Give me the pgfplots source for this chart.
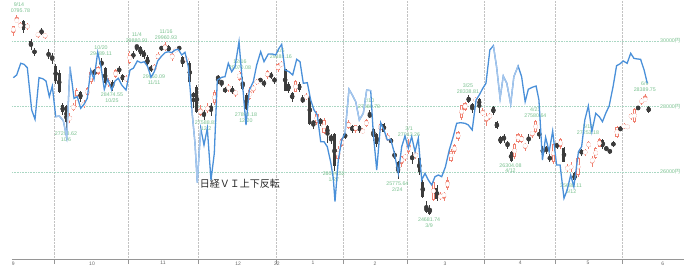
\documentclass[border=0pt]{standalone}
\usepackage{pgfplots}
\pgfplotsset{compat=1.18}
\usepackage{pgfplotstable}
\usepackage{fontspec}
\setmainfont{Liberation Sans}
\newfontfamily\jp{Noto Sans CJK JP}
\definecolor{upc}{RGB}{240,128,112}
\definecolor{downc}{RGB}{60,60,60}
\definecolor{vib}{RGB}{74,144,217}
\definecolor{vil}{RGB}{165,198,236}
\definecolor{labg}{RGB}{120,192,142}
\definecolor{hgrid}{RGB}{170,215,195}
\definecolor{vgrid}{RGB}{195,195,195}
\definecolor{axgray}{RGB}{150,150,150}
\newcommand\lab{\fontsize{5.3}{5.9}\selectfont}

\pgfplotstableread{
i O H L C
0 30253 30470 30150 30447
1 30580 30796 30550 30670
2 30430 30580 30400 30511
3 30600 30640 30250 30323
4 30400 30560 30330 30500
5 29990 30050 29720 29839
6 29700 29800 29540 29639
7 30150 30260 30100 30248
8 30300 30400 30180 30240
9 30150 30250 30050 30183
10 29620 29750 29450 29544
11 29540 29620 29300 29452
12 29240 29300 28700 28771
13 29020 29100 28400 28444
14 28040 28100 27750 27822
15 28020 28050 27294 27528
16 27600 27800 27500 27678
17 27900 28100 27850 28048
18 28000 28580 27980 28498
19 28440 28480 28150 28230
20 28000 28200 27950 28140
21 28350 28580 28300 28550
22 28750 29100 28700 29068
23 29100 29150 28900 29025
24 29000 29250 28950 29215
25 29360 29489 29180 29255
26 29170 29200 28650 28708
27 28650 28870 28600 28804
28 28750 28800 28475 28600
29 28900 29150 28870 29106
30 29150 29230 29000 29098
31 28950 29000 28750 28820
32 28800 28950 28750 28892
33 29330 29700 29300 29647
34 29600 29680 29450 29520
35 29880 29881 29700 29794
36 29820 29840 29550 29611
37 29700 29720 29450 29507
38 29500 29560 29200 29285
39 29200 29270 29050 29106
40 29100 29300 29050 29277
41 29450 29650 29430 29609
42 29800 29850 29700 29776
43 29800 29961 29700 29808
44 29850 29870 29650 29688
45 29450 29700 29400 29598
46 29700 29800 29650 29745
47 29800 29850 29700 29774
48 29500 29530 29200 29302
49 29400 29530 29350 29499
50 29330 29380 28700 28751
51 28400 28450 27950 28283
52 28600 28650 27800 27821
53 27750 28050 27700 27935
54 27800 27900 27589 27753
55 27850 28100 27800 28029
56 28000 28100 27700 27927
57 28100 28500 28050 28455
58 28900 28950 28700 28860
59 28770 28800 28600 28725
60 28560 28600 28400 28437
61 28500 28700 28450 28640
62 28560 28620 28380 28432
63 28380 28500 28300 28459
64 28800 29070 28780 29066
65 28760 28900 28500 28545
66 28350 28400 27893 27937
67 28230 28600 28200 28517
68 28540 28650 28400 28562
69 28700 28850 28650 28798
70 28830 28870 28750 28782
71 28760 28800 28600 28676
72 28900 29100 28850 29069
73 28980 29050 28850 28906
74 28830 28900 28700 28791
75 29100 29330 29050 29301
76 29250 29388 29200 29332
77 29140 29160 28460 28487
78 28700 28750 28400 28478
79 28400 28450 28150 28222
80 28450 28800 28430 28765
81 28700 28750 28450 28489
82 28250 28350 28100 28124
83 28250 28400 28200 28333
84 28300 28350 27450 27467
85 27550 27600 27300 27467
86 27500 27850 27450 27772
87 27600 27650 27400 27522
88 27200 27650 27150 27588
89 27400 27450 26900 27131
90 27100 27150 26850 27011
91 27150 27200 26045 26170
92 26400 26800 26300 26717
93 26800 27050 26750 27001
94 27150 27200 27000 27078
95 27340 27600 27300 27533
96 27400 27450 27200 27241
97 27250 27450 27200 27439
98 27400 27450 27200 27248
99 27200 27350 27150 27284
100 27400 27620 27380 27579
101 27750 27881 27650 27696
102 27320 27350 26950 27079
103 27150 27200 26750 26865
104 27280 27480 27250 27460
105 27480 27500 27200 27232
106 26980 27200 26950 27122
107 27000 27050 26850 26910
108 26550 26650 26400 26449
109 26300 26350 25776 25970
110 26250 26500 26150 26476
111 26400 26550 26350 26526
112 26600 27013 26550 26844
113 26500 26600 26250 26393
114 26450 26650 26400 26577
115 26420 26450 25900 25985
116 25700 25750 25200 25221
117 24930 25100 24750 24790
118 24900 25000 24682 24717
119 25150 25750 25100 25690
120 25520 25600 25100 25162
121 25200 25400 25150 25307
122 25250 25400 25100 25346
123 25500 25850 25450 25762
124 26350 26700 26300 26652
125 26600 26850 26550 26827
126 27000 27250 26950 27224
127 27650 28050 27600 28040
128 27900 28150 27850 28110
129 28290 28339 28100 28149
130 28070 28100 27800 27943
131 28150 28300 28100 28252
132 28230 28250 27800 28027
133 27780 27950 27700 27821
134 27620 27800 27400 27665
135 27680 27800 27600 27736
136 27990 28000 27750 27787
137 27530 27550 27300 27350
138 27070 27100 26850 26888
139 27100 27150 26900 26985
140 26890 26950 26700 26821
141 26610 26650 26304 26335
142 26450 26900 26400 26843
143 26920 27200 26900 27172
144 26920 27150 26900 27093
145 26800 26900 26650 26800
146 27050 27150 26850 26985
147 27150 27250 27050 27217
148 27220 27581 27200 27553
149 27200 27300 27000 27105
150 26700 26800 26500 26590
151 26720 26800 26550 26700
152 26450 26550 26300 26386
153 26300 26850 26250 26847
154 26830 26900 26700 26818
155 26760 27050 26700 27003
156 26730 26750 26300 26319
157 26060 26250 26000 26167
158 26100 26300 26000 26213
159 25970 26000 25688 25748
160 25900 26450 25850 26427
161 26670 26700 26500 26547
162 26550 26700 26500 26659
163 26760 26950 26700 26911
164 26300 26500 26150 26402
165 26430 26750 26400 26739
166 26760 27050 26750 27001
167 26980 27000 26700 26748
168 26730 26800 26650 26677
169 26670 26700 26550 26604
170 26920 26950 26750 26781
171 27070 27400 27050 27369
172 27340 27400 27250 27279
173 27340 27500 27300 27457
174 27350 27450 27300 27413
175 27650 27800 27600 27761
176 27530 27950 27500 27915
177 27980 28000 27900 27943
178 28100 28250 28050 28234
179 28180 28390 28150 28246
180 27990 28000 27800 27824
}\ohlc

\pgfplotstableread{
x v
0.00 21.77
0.96 21.50
2.10 20.33
3.03 20.43
3.97 20.77
5.21 25.00
6.15 25.93
7.28 21.77
8.33 21.87
9.26 22.10
10.20 23.67
11.05 22.60
12.01 25.67
13.03 25.60
14.16 26.07
15.13 27.73
16.06 20.67
17.20 23.83
18.13 23.67
19.09 24.83
20.03 24.43
20.96 23.83
21.93 21.00
22.86 21.93
23.91 19.23
24.84 20.67
25.78 22.93
26.74 21.93
27.88 23.00
28.81 22.10
29.75 21.83
30.71 22.50
31.93 23.00
33.06 21.00
34.00 20.83
35.13 20.10
36.18 20.27
37.11 20.17
38.07 20.67
39.01 21.73
39.94 21.17
40.91 20.10
42.04 19.60
42.97 19.27
43.91 19.17
44.87 19.27
45.81 19.00
46.74 18.93
47.71 19.50
48.64 19.23
49.58 20.67
50.54 24.83
51.47 28.33
52.12 32.27
53.09 26.83
54.02 28.50
54.96 26.83
56.00 32.00
56.94 29.33
57.79 22.00
59.04 21.73
59.97 21.67
60.91 20.33
61.87 21.17
62.80 20.67
63.94 18.17
64.87 22.17
65.92 26.50
66.86 23.00
67.99 22.17
68.95 20.50
70.08 19.17
71.02 20.17
72.24 19.40
73.37 19.40
74.33 19.50
75.27 18.83
76.03 18.43
76.97 21.00
78.10 21.17
79.15 21.50
80.28 19.93
81.22 20.17
82.15 22.33
83.29 22.27
84.25 24.00
85.18 25.00
86.12 25.50
87.08 28.17
88.02 28.17
88.95 28.67
89.92 30.23
90.65 31.83
91.13 34.17
92.07 30.00
93.03 28.00
93.97 27.33
95.10 22.93
96.03 23.50
97.00 24.17
98.02 26.00
99.15 25.33
100.11 23.00
101.25 23.07
101.98 27.33
102.95 31.00
104.08 26.27
105.01 27.00
105.95 28.00
106.91 27.93
107.85 29.17
109.07 31.33
110.03 28.67
110.96 27.60
111.90 28.83
112.86 27.67
113.80 29.17
114.73 27.83
115.69 32.00
116.63 31.33
117.56 32.00
118.53 32.50
119.46 31.67
120.40 31.50
121.36 31.67
122.40 30.70
123.50 29.00
124.60 27.70
125.60 26.33
126.70 26.27
127.95 26.33
128.90 26.50
130.00 27.00
131.10 24.00
132.00 23.50
133.00 22.83
133.90 22.33
135.00 19.00
136.00 18.57
136.90 20.67
137.90 23.83
138.80 21.60
139.80 22.33
140.90 24.40
141.80 21.67
143.00 20.60
144.00 21.67
145.00 24.17
145.90 22.93
147.00 22.73
148.10 22.60
148.90 24.00
149.90 30.00
150.80 27.73
151.80 29.17
152.80 27.10
153.90 30.50
154.90 30.50
156.00 33.83
156.90 33.00
157.90 31.50
158.80 32.67
160.10 29.17
161.00 28.67
161.90 26.00
162.90 24.60
163.90 27.17
165.00 25.33
166.00 25.67
166.90 26.17
167.90 25.27
168.80 24.60
169.90 22.67
170.90 20.57
171.80 20.40
172.80 20.10
173.90 20.33
174.90 19.33
175.80 19.83
176.80 19.90
177.70 19.93
178.70 21.00
179.60 22.33
}\vi

\pgfplotsset{
  candle/.style n args={2}{#1, only marks, mark=none, forget plot,
    error bars/.cd, y dir=both, y explicit, error mark=none,
    error bar style={color=#1, line width=#2, solid}},
}

\begin{document}
\begin{tikzpicture}
\begin{axis}[name=main,
  scale only axis, width=672pt, height=259pt,
  xmin=-0.37, xmax=190.0, ymin=23343, ymax=31252,
  axis x line*=bottom, axis y line=none,
  x axis line style={draw=axgray, line width=0.8pt},
  xtick={11.5,32.5,52.5,74.5,93.5,111.5,133.5,153.5,172.5},
  xticklabels={},
  xmajorgrids, grid style={draw=vgrid, densely dotted, line width=0.6pt},
  major tick length=5pt, tick align=outside,
  tick style={draw=axgray, line width=0.6pt},
  extra x ticks={0,22.3,42.4,63.7,74.7,84.9,102.5,122.3,143.6,162.8,184},
  extra x tick labels={9,10,11,12,22,1,2,3,4,5,6},
  extra x tick style={grid=none, tick align=inside, major tick length=0pt,
    tick label style={font=\fontsize{5}{6}\selectfont, text=black!60, yshift=1pt}},
  ytick=\empty,
]
% horizontal grid
\draw[hgrid, densely dotted, line width=0.6pt] (axis cs:-0.37,30000) -- (axis cs:183.2,30000);
\draw[hgrid, densely dotted, line width=0.6pt] (axis cs:-0.37,28000) -- (axis cs:183.2,28000);
\draw[hgrid, densely dotted, line width=0.6pt] (axis cs:-0.37,26000) -- (axis cs:183.2,26000);
% wicks
\addplot[candle={downc}{0.8pt}] table[x=i,
  y expr={\thisrow{C}<\thisrow{O} ? (\thisrow{H}+\thisrow{L})/2 : nan},
  y error expr={(\thisrow{H}-\thisrow{L})/2}] {\ohlc};
\addplot[candle={upc}{0.8pt}] table[x=i,
  y expr={\thisrow{C}<\thisrow{O} ? nan : (\thisrow{H}+\thisrow{L})/2},
  y error expr={(\thisrow{H}-\thisrow{L})/2}] {\ohlc};
% bodies
\addplot[candle={downc}{3.0pt}] table[x=i,
  y expr={\thisrow{C}<\thisrow{O} ? (\thisrow{O}+\thisrow{C})/2 : nan},
  y error expr={max((\thisrow{O}-\thisrow{C})/2,16)}] {\ohlc};
\addplot[candle={upc}{3.3pt}] table[x=i,
  y expr={\thisrow{C}<\thisrow{O} ? nan : (\thisrow{O}+\thisrow{C})/2},
  y error expr={max((\thisrow{C}-\thisrow{O})/2,30)}] {\ohlc};
\addplot[candle={white}{1.5pt}] table[x=i,
  y expr={\thisrow{C}<\thisrow{O} ? nan : (\thisrow{O}+\thisrow{C})/2},
  y error expr={max((\thisrow{C}-\thisrow{O})/2-28,0)}] {\ohlc};
% labels
\begin{scope}
\clip (axis cs:-0.37,23343) rectangle (axis cs:190,31252);
\node[font=\lab, text=labg, align=center, inner sep=0pt] at (axis cs:1.6,31008) {9/14\\30795.78};
\end{scope}
\begin{scope}[every node/.style={font=\lab, text=labg, align=center, inner sep=0pt}]
\node at (axis cs:14.93,27069) {27293.62\\10/6};
\node at (axis cs:24.85,29704) {10/20\\29489.11};
\node at (axis cs:27.96,28281) {28474.55\\10/25};
\node at (axis cs:35.0,30116) {11/4\\29880.91};
\node at (axis cs:43.26,30208) {11/16\\29960.93};
\node at (axis cs:39.86,28824) {29050.09\\11/11};
\node at (axis cs:54.6,27414) {27588.81\\12/2};
\node at (axis cs:64.2,29292) {12/16\\29070.08};
\node at (axis cs:65.9,27664) {27893.18\\12/20};
\node at (axis cs:75.8,29609) {1/5\\29388.16};
\node at (axis cs:90.8,25847) {26044.52\\1/27};
\node at (axis cs:100.8,28098) {2/10\\27880.70};
\node at (axis cs:108.8,25563) {25775.64\\2/24};
\node at (axis cs:112.1,27246) {3/1\\27013.26};
\node at (axis cs:117.8,24458) {24681.74\\3/9};
\node at (axis cs:128.8,28559) {3/25\\28338.81};
\node at (axis cs:140.85,26116) {26304.08\\4/12};
\node at (axis cs:147.9,27802) {4/21\\27580.64};
\node at (axis cs:162.8,27298) {5/18\\27253.18};
\node at (axis cs:158.0,25487) {25688.11\\5/12};
\node at (axis cs:178.9,28617) {6/9\\28389.75};
\node[anchor=west] at (axis cs:183.2,30000) {30000{\jp 円}};
\node[anchor=west] at (axis cs:183.2,28000) {28000{\jp 円}};
\node[anchor=west] at (axis cs:183.2,26000) {26000{\jp 円}};
\end{scope}
\node[font=\jp\fontsize{10}{12}\selectfont, text=black!85, inner sep=0pt] at (axis cs:64.2,25634) {日経ＶＩ上下反転};
\end{axis}
\begin{axis}[at={(main.south west)}, anchor=south west,
  scale only axis, width=672pt, height=259pt,
  xmin=-0.37, xmax=190.0, ymin=14, ymax=39.9, y dir=reverse,
  hide axis]
\addplot[vib, line width=1.3pt, mark=none] table[x=x, y=v] {\vi};
\addplot[vil, line width=1.3pt, mark=none, restrict x to domain=12.0:16.1] table[x=x, y=v] {\vi};
\addplot[vil, line width=1.3pt, mark=none, restrict x to domain=50.5:53.1] table[x=x, y=v] {\vi};
\addplot[vil, line width=1.3pt, mark=none, restrict x to domain=93.9:101.3] table[x=x, y=v] {\vi};
\addplot[vil, line width=1.3pt, mark=none, restrict x to domain=136.0:143.0] table[x=x, y=v] {\vi};
\end{axis}
\pgfresetboundingbox
\path[use as bounding box] ([shift={(-12pt,-15pt)}]main.south west) rectangle ([shift={(4pt,0pt)}]main.north east);
\end{tikzpicture}
\end{document}
